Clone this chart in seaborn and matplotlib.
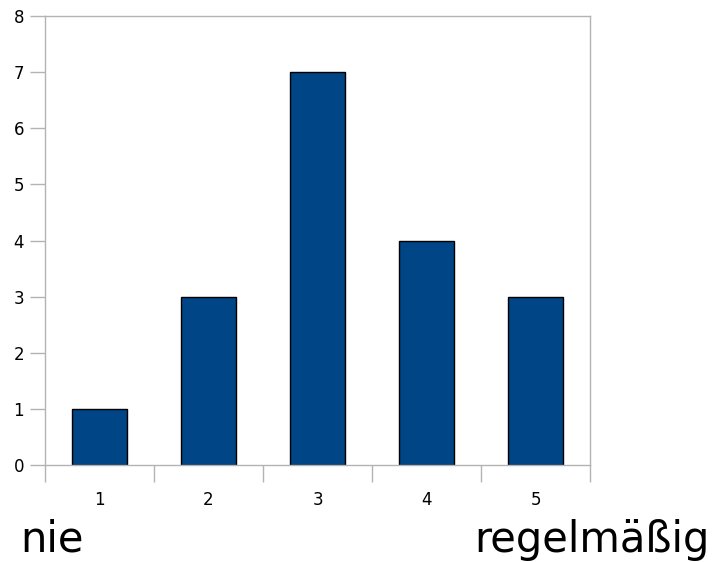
import matplotlib
matplotlib.use('Agg')
from matplotlib import pyplot as plt
from matplotlib.ticker import FixedLocator
import seaborn as sns
import pandas as pd

categories = ["1", "2", "3", "4", "5"]
counts = [1, 3, 7, 4, 3]
y_ticks = [0, 1, 2, 3, 4, 5, 6, 7, 8]

sns.set_style("white")
plt.rcParams['font.family'] = ['DejaVu Sans']
plt.rcParams['text.color'] = 'black'
plt.rcParams['xtick.color'] = 'black'
plt.rcParams['ytick.color'] = 'black'

df = pd.DataFrame({"cat": categories, "n": counts})

fig = plt.figure(figsize=(7.18, 5.62), dpi=100)
ax = fig.add_axes([45 / 718, 97 / 562, 545 / 718, 449 / 562])

sns.barplot(data=df, x="cat", y="n", color="#004586", saturation=1,
            width=0.5, edgecolor="black", linewidth=1, ax=ax)

grey = "#b3b3b3"
for s in ax.spines.values():
    s.set_color(grey)
    s.set_linewidth(1)
    s.set_visible(True)

ax.set_xlim(-0.5, len(categories) - 0.5)
ax.set_ylim(0, 8)
ax.set_yticks(y_ticks)
ax.set_xlabel("")
ax.set_ylabel("")
ax.tick_params(axis="y", length=11, color=grey, labelcolor="black", width=1,
               labelsize=12, pad=4, left=True)
ax.tick_params(axis="x", which="major", length=0, labelcolor="black",
               labelsize=12, pad=19)
ax.xaxis.set_minor_locator(FixedLocator([i - 0.5 for i in range(len(categories) + 1)]))
ax.tick_params(axis="x", which="minor", length=12, color=grey, width=1, bottom=True)

fig.text(20 / 718, 10 / 562, "nie", fontsize=30, va="baseline", ha="left", color="black")
fig.text(710 / 718, 10 / 562, "regelmäßig", fontsize=30, va="baseline", ha="right", color="black")

fig.savefig("out.png", dpi=100)
